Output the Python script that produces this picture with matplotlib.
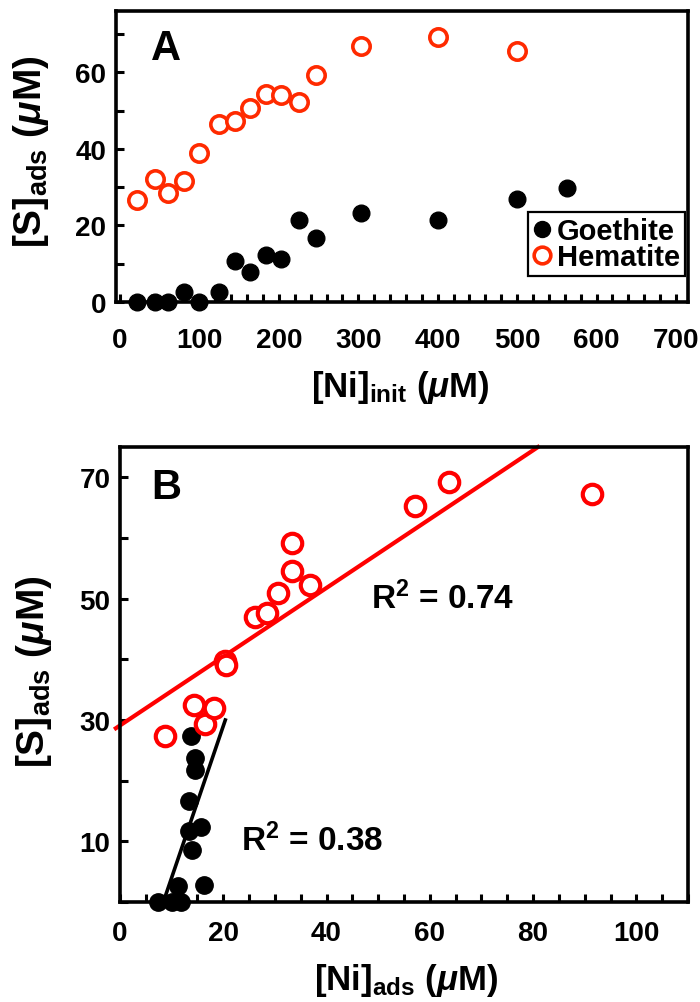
import matplotlib
matplotlib.use("Agg")
import matplotlib.pyplot as plt
from matplotlib.ticker import MultipleLocator, FixedLocator
from matplotlib.lines import Line2D
import numpy as np

plt.rcParams['font.family'] = ['Liberation Sans', 'DejaVu Sans']
plt.rcParams['font.weight'] = 'bold'
plt.rcParams['mathtext.fontset'] = 'custom'
plt.rcParams['mathtext.rm'] = 'Liberation Sans:bold'
plt.rcParams['mathtext.bf'] = 'Liberation Sans:bold'
plt.rcParams['mathtext.it'] = 'Liberation Sans:bold:italic'
plt.rcParams['mathtext.sf'] = 'Liberation Sans:bold'

# ---- Panel A data ----
goe_ni_init = [22, 44, 61, 80, 100, 125, 145, 164, 184, 203, 225, 247, 303, 400, 500, 563]
goe_s_ads_A = [0, 0, 0, 2.5, 0, 2.5, 10.8, 7.9, 12.2, 11.3, 21.4, 16.6, 23.2, 21.4, 27.0, 29.8]
hem_ni_init = [22, 44, 61, 80, 100, 125, 145, 164, 184, 203, 225, 247, 303, 400, 500]
hem_s_ads_A = [26.7, 32.2, 28.6, 31.7, 38.9, 46.4, 47.3, 50.7, 54.4, 54.0, 52.2, 59.3, 67.0, 69.3, 65.5]

# ---- Panel B data ----
goe_ni_ads = [7.3, 10.0, 11.9, 11.3, 16.2, 13.9, 13.3, 15.7, 13.3, 14.5, 14.5, 13.8]
goe_s_ads_B = [0.0, 0.0, 0.0, 2.7, 2.8, 8.6, 11.7, 12.4, 16.6, 21.7, 23.8, 27.4]
hem_ni_ads = [8.7, 14.4, 16.4, 18.2, 20.3, 20.6, 26.1, 28.5, 30.6, 33.3, 33.3, 36.8, 57.2, 63.7, 91.5]
hem_s_ads_B = [27.4, 32.4, 29.3, 32.0, 39.7, 39.0, 47.0, 47.6, 50.9, 54.6, 59.1, 52.2, 65.3, 69.3, 67.3]

# regression lines
hem_fit = (0.567, 29.1)    # slope, intercept
goe_fit = (2.5, -21.0)
hem_r2 = "0.74"
goe_r2 = "0.38"

A_RED = '#ff2a00'
B_RED = '#ff0000'

fig = plt.figure(figsize=(7.0, 10.03), dpi=100)
axA = fig.add_axes([0.1657, 0.6979, 0.8171, 0.2900])
axB = fig.add_axes([0.1714, 0.0997, 0.8114, 0.4536])

TICK_FS = 20
XLABEL_FS = 25
YLABEL_FS = 28

def style(ax):
    for s in ax.spines.values():
        s.set_linewidth(2.6)
    ax.tick_params(which='both', direction='in', length=6, width=2.2,
                   top=False, right=False, labelsize=TICK_FS, pad=7)
    for lab in ax.get_xticklabels() + ax.get_yticklabels():
        lab.set_fontweight('bold')

# ---- Panel A ----
axA.plot(goe_ni_init, goe_s_ads_A, 'o', color='black', ms=12, clip_on=False, zorder=3)
axA.plot(hem_ni_init, hem_s_ads_A, 'o', mfc='white', mec=A_RED, mew=2.6, ms=12.5,
         clip_on=False, zorder=3)
axA.set_xlim(-5, 715)
axA.set_ylim(0, 76)
axA.xaxis.set_major_locator(MultipleLocator(100))
axA.xaxis.set_minor_locator(MultipleLocator(20))
axA.yaxis.set_major_locator(MultipleLocator(20))
axA.yaxis.set_minor_locator(MultipleLocator(10))
style(axA)
axA.tick_params(axis='x', pad=18)
axA.set_xlabel(r'[Ni]$_{\mathrm{init}}$ ($\mu$M)', fontsize=XLABEL_FS, fontweight='bold')
axA.set_ylabel(r'[S]$_{\mathrm{ads}}$ ($\mu$M)', fontsize=YLABEL_FS, fontweight='bold', va='center')
axA.xaxis.set_label_coords(0.497, -0.29)
axA.xaxis.label.set_va('center')
axA.yaxis.set_label_coords(-0.148, 0.52)
axA.text(0.087, 0.873, 'A', transform=axA.transAxes, fontsize=30, fontweight='bold',
         ha='center', va='center')
handles = [Line2D([], [], ls='none', marker='o', color='black', ms=11.5),
           Line2D([], [], ls='none', marker='o', mfc='white', mec=A_RED, mew=2.6, ms=12)]
leg = axA.legend(handles, ['Goethite', 'Hematite'], loc='lower right',
                 bbox_to_anchor=(0.995, 0.089), borderaxespad=0, fancybox=False,
                 edgecolor='black', framealpha=1, prop={'size': 21, 'weight': 'bold'},
                 handlelength=0.6, handletextpad=0.2, borderpad=0.18, labelspacing=-0.08)
leg.get_frame().set_linewidth(1.6)

# ---- Panel B ----
axB.plot(goe_ni_ads, goe_s_ads_B, 'o', color='black', ms=12.5, clip_on=False, zorder=3)
axB.plot(hem_ni_ads, hem_s_ads_B, 'o', mfc='white', mec=B_RED, mew=3.0, ms=14,
         clip_on=False, zorder=3)
xlB = (0, 110)
ylB = (0, 75)
x0 = -0.8
x1 = (ylB[1] - hem_fit[1]) / hem_fit[0]
xs = np.array([x0, x1])
axB.plot(xs, hem_fit[0] * xs + hem_fit[1], color=B_RED, lw=3.0, clip_on=False, zorder=2)
gx0 = (0 - goe_fit[1]) / goe_fit[0]
gx1 = (30 - goe_fit[1]) / goe_fit[0]
gxs = np.array([gx0, gx1])
axB.plot(gxs, goe_fit[0] * gxs + goe_fit[1], color='black', lw=2.6, zorder=2)
axB.set_xlim(*xlB)
axB.set_ylim(*ylB)
axB.xaxis.set_major_locator(MultipleLocator(20))
axB.xaxis.set_minor_locator(MultipleLocator(5))
axB.yaxis.set_major_locator(FixedLocator([10, 30, 50, 70]))
axB.yaxis.set_minor_locator(MultipleLocator(10))
style(axB)
axB.tick_params(axis='x', pad=13)
axB.set_xlabel(r'[Ni]$_{\mathrm{ads}}$ ($\mu$M)', fontsize=XLABEL_FS, fontweight='bold')
axB.set_ylabel(r'[S]$_{\mathrm{ads}}$ ($\mu$M)', fontsize=YLABEL_FS, fontweight='bold', va='center')
axB.xaxis.set_label_coords(0.504, -0.171)
axB.xaxis.label.set_va('center')
axB.yaxis.set_label_coords(-0.152, 0.508)
axB.text(0.081, 0.912, 'B', transform=axB.transAxes, fontsize=30, fontweight='bold',
         ha='center', va='center')
axB.text(48.7, 50.2, r'R$^{\mathrm{2}}$ = ' + hem_r2, fontsize=24, fontweight='bold',
         ha='left', va='center')
axB.text(23.5, 10.3, r'R$^{\mathrm{2}}$ = ' + goe_r2, fontsize=24, fontweight='bold',
         ha='left', va='center')

fig.savefig('out.png', dpi=100)
